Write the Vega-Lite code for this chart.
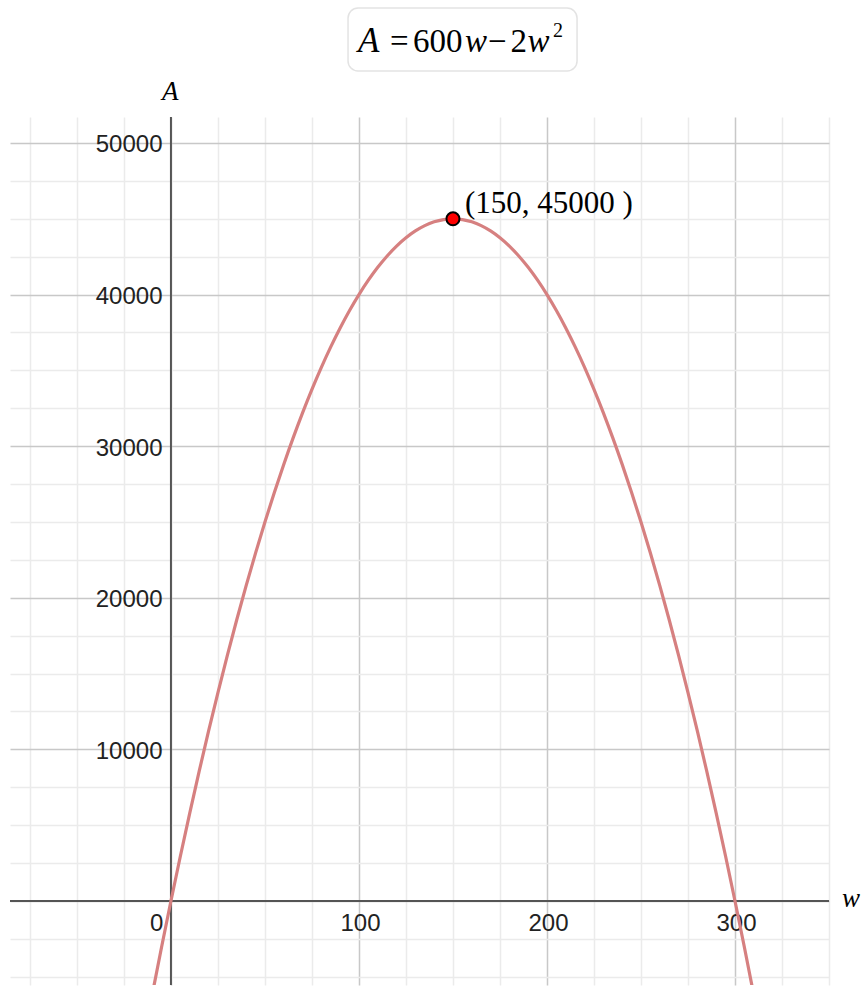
{
  "$schema": "https://vega.github.io/schema/vega-lite/v6.json",
  "width": 819,
  "height": 868,
  "autosize": {"type": "none"},
  "padding": {"left": 10, "top": 117, "right": 32, "bottom": 1},
  "background": "white",
  "config": {"view": {"stroke": null}},
  "datasets": {
    "curve": [
      {"w": -10, "A": -6200}, {"w": -5, "A": -3050}, {"w": 0, "A": 0}, {"w": 5, "A": 2950},
      {"w": 10, "A": 5800}, {"w": 15, "A": 8550}, {"w": 20, "A": 11200}, {"w": 25, "A": 13750},
      {"w": 30, "A": 16200}, {"w": 35, "A": 18550}, {"w": 40, "A": 20800}, {"w": 45, "A": 22950},
      {"w": 50, "A": 25000}, {"w": 55, "A": 26950}, {"w": 60, "A": 28800}, {"w": 65, "A": 30550},
      {"w": 70, "A": 32200}, {"w": 75, "A": 33750}, {"w": 80, "A": 35200}, {"w": 85, "A": 36550},
      {"w": 90, "A": 37800}, {"w": 95, "A": 38950}, {"w": 100, "A": 40000}, {"w": 105, "A": 40950},
      {"w": 110, "A": 41800}, {"w": 115, "A": 42550}, {"w": 120, "A": 43200}, {"w": 125, "A": 43750},
      {"w": 130, "A": 44200}, {"w": 135, "A": 44550}, {"w": 140, "A": 44800}, {"w": 145, "A": 44950},
      {"w": 150, "A": 45000}, {"w": 155, "A": 44950}, {"w": 160, "A": 44800}, {"w": 165, "A": 44550},
      {"w": 170, "A": 44200}, {"w": 175, "A": 43750}, {"w": 180, "A": 43200}, {"w": 185, "A": 42550},
      {"w": 190, "A": 41800}, {"w": 195, "A": 40950}, {"w": 200, "A": 40000}, {"w": 205, "A": 38950},
      {"w": 210, "A": 37800}, {"w": 215, "A": 36550}, {"w": 220, "A": 35200}, {"w": 225, "A": 33750},
      {"w": 230, "A": 32200}, {"w": 235, "A": 30550}, {"w": 240, "A": 28800}, {"w": 245, "A": 26950},
      {"w": 250, "A": 25000}, {"w": 255, "A": 22950}, {"w": 260, "A": 20800}, {"w": 265, "A": 18550},
      {"w": 270, "A": 16200}, {"w": 275, "A": 13750}, {"w": 280, "A": 11200}, {"w": 285, "A": 8550},
      {"w": 290, "A": 5800}, {"w": 295, "A": 2950}, {"w": 300, "A": 0}, {"w": 305, "A": -3050},
      {"w": 310, "A": -6200}
    ],
    "vertex": [{"w": 150, "A": 45000}]
  },
  "data": {"name": "vertex"},
  "resolve": {"axis": {"x": "independent", "y": "independent"}},
  "layer": [
    {
      "mark": {"type": "rect", "fill": "white", "stroke": "#e3e3e3", "strokeWidth": 1.5, "cornerRadius": 10, "clip": false},
      "encoding": {
        "x": {"datum": 94.19, "type": "quantitative", "scale": {"domain": [-85.6, 350], "nice": false, "zero": false}, "axis": null},
        "x2": {"datum": 216.0},
        "y": {"datum": 58905, "type": "quantitative", "scale": {"domain": [-5541, 51715], "nice": false, "zero": false}, "axis": null},
        "y2": {"datum": 54750}
      }
    },
    {
      "mark": {"type": "rule", "color": "#555555", "strokeWidth": 2},
      "encoding": {"y": {"datum": 0, "type": "quantitative", "axis": null}}
    },
    {
      "mark": {"type": "rule", "color": "#555555", "strokeWidth": 2},
      "encoding": {"x": {"datum": 0, "type": "quantitative", "axis": null}}
    },
    {
      "data": {"name": "curve"},
      "mark": {"type": "line", "color": "#d68080", "strokeWidth": 3.2, "clip": true, "interpolate": "monotone"},
      "encoding": {
        "x": {
          "field": "w", "type": "quantitative",
          "axis": {
            "orient": "bottom", "grid": true, "labels": false, "ticks": false, "domain": false, "title": null,
            "values": [-75, -50, -25, 0, 25, 50, 75, 100, 125, 150, 175, 200, 225, 250, 275, 300, 325, 350],
            "gridColor": {"condition": {"test": "datum.value % 100 === 0", "value": "#c8c8c8"}, "value": "#ebebeb"},
            "gridWidth": 1.5
          }
        },
        "y": {
          "field": "A", "type": "quantitative",
          "axis": {
            "orient": "left", "grid": true, "labels": false, "ticks": false, "domain": false, "title": null,
            "values": [-5000, -2500, 0, 2500, 5000, 7500, 10000, 12500, 15000, 17500, 20000, 22500, 25000, 27500, 30000, 32500, 35000, 37500, 40000, 42500, 45000, 47500, 50000],
            "gridColor": {"condition": {"test": "datum.value % 10000 === 0", "value": "#c8c8c8"}, "value": "#ebebeb"},
            "gridWidth": 1.5
          }
        }
      }
    },
    {
      "mark": {"type": "point", "shape": "circle", "filled": true, "fill": "#ff0000", "color": "#ff0000", "stroke": "#000000", "strokeWidth": 2, "size": 170, "opacity": 1},
      "encoding": {
        "x": {
          "field": "w", "type": "quantitative",
          "axis": {
            "orient": "bottom", "offset": -84, "grid": false, "domain": false, "ticks": false, "tickSize": 0, "title": null,
            "values": [0, 100, 200, 300], "format": "d",
            "labelPadding": 10, "labelFont": "Liberation Sans", "labelFontSize": 24, "labelColor": "#222222",
            "labelFlush": false, "labelOverlap": false, "labelBaseline": "top",
            "labelAlign": {"condition": {"test": "datum.value === 0", "value": "right"}, "value": "center"},
            "labelOffset": {"condition": {"test": "datum.value === 0", "value": -8}, "value": 1}
          }
        },
        "y": {
          "field": "A", "type": "quantitative",
          "axis": {
            "orient": "left", "offset": -161, "grid": false, "domain": false, "ticks": false, "tickSize": 0, "title": null,
            "values": [10000, 20000, 30000, 40000, 50000], "format": "d",
            "labelPadding": 9, "labelFont": "Liberation Sans", "labelFontSize": 24, "labelColor": "#222222",
            "labelFlush": false, "labelOverlap": false, "labelOffset": 2
          }
        }
      }
    },
    {
      "mark": {"type": "text", "text": "(150, 45000 )", "font": "Liberation Serif", "fontSize": 31, "align": "left", "baseline": "alphabetic", "color": "#000000", "clip": false},
      "encoding": {"x": {"datum": 156.4, "type": "quantitative", "axis": null}, "y": {"datum": 45383, "type": "quantitative", "axis": null}}
    },
    {
      "mark": {"type": "text", "text": "A", "font": "Liberation Serif", "fontStyle": "italic", "fontSize": 27, "align": "left", "baseline": "alphabetic", "color": "#000000", "clip": false},
      "encoding": {"x": {"datum": -4.75, "type": "quantitative", "axis": null}, "y": {"datum": 52836, "type": "quantitative", "axis": null}}
    },
    {
      "mark": {"type": "text", "text": "w", "font": "Liberation Serif", "fontStyle": "italic", "fontSize": 27, "align": "left", "baseline": "alphabetic", "color": "#000000", "clip": false},
      "encoding": {"x": {"datum": 356.95, "type": "quantitative", "axis": null}, "y": {"datum": -396, "type": "quantitative", "axis": null}}
    },
    {
      "mark": {"type": "text", "text": "A", "font": "Liberation Serif", "fontStyle": "italic", "fontSize": 35, "align": "left", "baseline": "alphabetic", "color": "#000000", "clip": false},
      "encoding": {"x": {"datum": 99.5, "type": "quantitative", "axis": null}, "y": {"datum": 56003, "type": "quantitative", "axis": null}}
    },
    {
      "mark": {"type": "text", "text": "=", "font": "Liberation Serif", "fontSize": 33, "align": "left", "baseline": "alphabetic", "color": "#000000", "clip": false},
      "encoding": {"x": {"datum": 116.5, "type": "quantitative", "axis": null}, "y": {"datum": 56003, "type": "quantitative", "axis": null}}
    },
    {
      "mark": {"type": "text", "text": "600", "font": "Liberation Serif", "fontSize": 33, "align": "left", "baseline": "alphabetic", "color": "#000000", "clip": false},
      "encoding": {"x": {"datum": 128.76, "type": "quantitative", "axis": null}, "y": {"datum": 56003, "type": "quantitative", "axis": null}}
    },
    {
      "mark": {"type": "text", "text": "w", "font": "Liberation Serif", "fontStyle": "italic", "fontSize": 33, "align": "left", "baseline": "alphabetic", "color": "#000000", "clip": false},
      "encoding": {"x": {"datum": 156.4, "type": "quantitative", "axis": null}, "y": {"datum": 56003, "type": "quantitative", "axis": null}}
    },
    {
      "mark": {"type": "text", "text": "−", "font": "Liberation Serif", "fontSize": 33, "align": "left", "baseline": "alphabetic", "color": "#000000", "clip": false},
      "encoding": {"x": {"datum": 168.6, "type": "quantitative", "axis": null}, "y": {"datum": 56003, "type": "quantitative", "axis": null}}
    },
    {
      "mark": {"type": "text", "text": "2", "font": "Liberation Serif", "fontSize": 33, "align": "left", "baseline": "alphabetic", "color": "#000000", "clip": false},
      "encoding": {"x": {"datum": 180.6, "type": "quantitative", "axis": null}, "y": {"datum": 56003, "type": "quantitative", "axis": null}}
    },
    {
      "mark": {"type": "text", "text": "w", "font": "Liberation Serif", "fontStyle": "italic", "fontSize": 33, "align": "left", "baseline": "alphabetic", "color": "#000000", "clip": false},
      "encoding": {"x": {"datum": 189.6, "type": "quantitative", "axis": null}, "y": {"datum": 56003, "type": "quantitative", "axis": null}}
    },
    {
      "mark": {"type": "text", "text": "2", "font": "Liberation Serif", "fontSize": 20, "align": "left", "baseline": "alphabetic", "color": "#000000", "clip": false},
      "encoding": {"x": {"datum": 203.2, "type": "quantitative", "axis": null}, "y": {"datum": 56992, "type": "quantitative", "axis": null}}
    }
  ]
}
